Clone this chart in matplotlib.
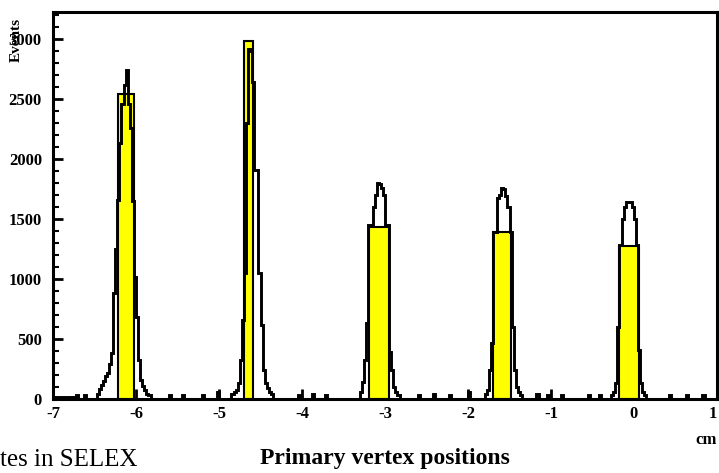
import matplotlib.pyplot as plt
import numpy as np

# -- histogram binning (cm) -----
BIN_WIDTH = 0.025
X_MIN, X_MAX = -7.0, 1.0

# fine histogram: each peak listed as consecutive bin counts from a start bin
peak_starts = [21, 86, 148, 208, 269]
peak_counts = [
    [45, 80, 120, 150, 190, 215, 290, 380, 880, 1250, 1660, 2130, 2460,
     2620, 2740, 2460, 2260, 1650, 1020, 680, 325, 160, 110, 75, 40, 30],
    [40, 60, 75, 130, 325, 660, 1050, 2300, 2920, 2900, 2640, 1910, 1910,
     1050, 620, 240, 130, 90, 60, 40],
    [60, 140, 325, 630, 1450, 1450, 1600, 1700, 1800, 1790, 1760, 1700,
     1450, 1450, 390, 240, 100, 60, 30],
    [40, 75, 240, 465, 1394, 1394, 1675, 1700, 1760, 1750, 1690, 1600,
     1394, 600, 240, 100, 60, 30],
    [30, 60, 130, 600, 1280, 1500, 1600, 1645, 1640, 1640, 1600, 1500,
     1280, 410, 130, 60, 30],
]

# sparse background between the peaks
noise_bins = [0, 2, 4, 6, 8, 10, 11, 15, 56, 62, 72, 79, 118, 125, 131,
              176, 183, 191, 200, 233, 238, 245, 258, 263, 297, 305, 313]
noise_counts = [20, 20, 20, 20, 20, 20, 35, 35, 30, 30, 35, 60, 30, 40, 30,
                30, 40, 35, 60, 40, 30, 30, 35, 30, 35, 35, 35]

# target plates (yellow bars)
plate_centers = [-6.12, -4.64, -3.07, -1.59, -0.063]
plate_widths = [0.19, 0.11, 0.24, 0.22, 0.24]
plate_heights = [2540, 2980, 1430, 1394, 1275]

x_ticks = [-7, -6, -5, -4, -3, -2, -1, 0, 1]
y_ticks = [0, 500, 1000, 1500, 2000, 2500, 3000]

edges = np.arange(X_MIN, X_MAX + BIN_WIDTH / 2, BIN_WIDTH)
counts = np.zeros(len(edges) - 1)
for b, c in zip(noise_bins, noise_counts):
    counts[b] = c
for start, vals in zip(peak_starts, peak_counts):
    counts[start:start + len(vals)] = vals

W, H = 719, 473
fig = plt.figure(figsize=(W / 100, H / 100), dpi=100)
ax = fig.add_axes([53 / W, 1 - 399 / H, (717 - 53) / W, (399 - 12) / H])

ax.bar(plate_centers, plate_heights, width=plate_widths, color='#ffff00',
       edgecolor='black', linewidth=1.5, zorder=2)
ax.stairs(counts, edges, color='black', linewidth=2.1, zorder=3)

ax.set_xlim(X_MIN, X_MAX)
ax.set_ylim(0, 3225)
ax.set_xticks(x_ticks)
ax.set_yticks(y_ticks)
ax.set_yticks(np.arange(0, 3225, 100), minor=True)

serif = 'Liberation Serif'
ax.set_xticklabels([str(t) for t in x_ticks], fontfamily=serif,
                   fontweight='bold', fontsize=12)
ax.set_yticklabels([str(t) for t in y_ticks], fontfamily=serif,
                   fontweight='bold', fontsize=12)
ax.get_xticklabels()[-1].set_ha('right')
ax.tick_params(axis='both', which='major', direction='in', length=7,
               width=2, pad=5)
ax.tick_params(axis='y', which='minor', direction='in', length=4, width=1.5)
ax.tick_params(axis='y', which='major', pad=8)
for s in ax.spines.values():
    s.set_linewidth(2.2)

fig.text(16 / W, 1 - 40 / H, 'Events', rotation=90, ha='center', va='center',
         fontfamily=serif, fontweight='bold', fontsize=11)
fig.text(706 / W, 1 - 440 / H, 'cm', ha='center', va='center',
         fontfamily=serif, fontweight='bold', fontsize=12)
fig.text(385 / W, 1 - 458 / H, 'Primary vertex positions', ha='center',
         va='center', fontfamily=serif, fontweight='bold', fontsize=17)
fig.text(0, 1 - 449 / H, 'tes in SELEX', ha='left', va='top',
         fontfamily=serif, fontsize=18)

fig.savefig('out.png', dpi=100)
